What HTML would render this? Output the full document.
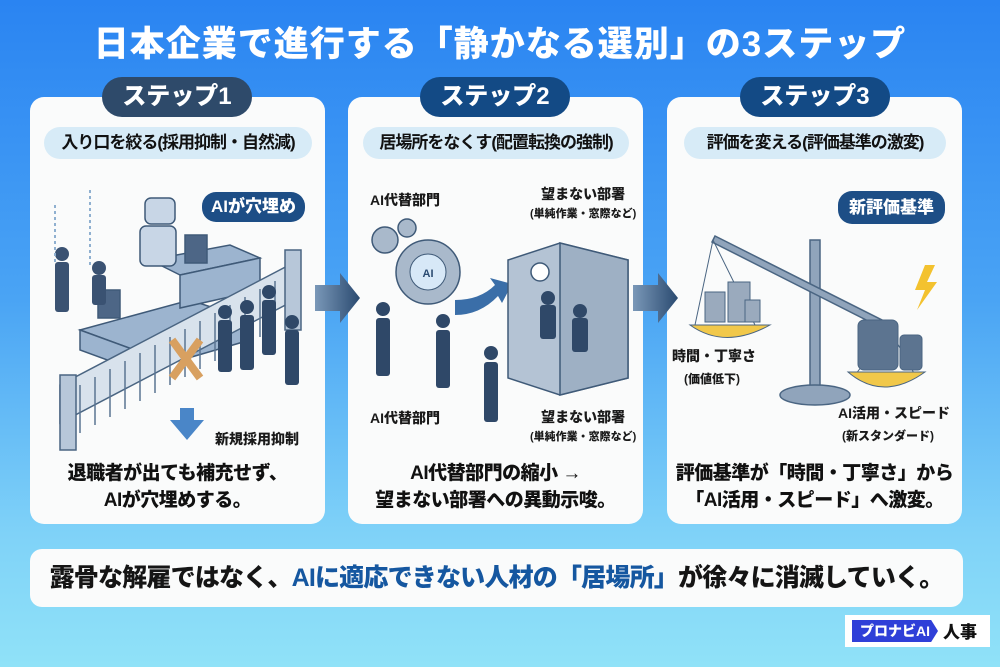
<!DOCTYPE html>
<html><head><meta charset="utf-8">
<style>
*{margin:0;padding:0;box-sizing:border-box}
body{width:1000px;height:667px;overflow:hidden;font-family:"Liberation Sans","Noto Sans CJK JP",sans-serif;background:linear-gradient(180deg,#2a84f2 0%,#4aa4f4 45%,#7fd2f8 80%,#90e2f8 100%);position:relative}
.abs{position:absolute}
h1{position:absolute;left:0;width:1000px;top:16px;text-align:center;color:#fff;font-size:35px;font-weight:900;letter-spacing:1px}
.card{position:absolute;top:97px;width:295px;height:427px;background:#fafbfb;border-radius:14px}
.pill{position:absolute;top:77px;width:150px;height:40px;border-radius:20px;color:#fff;font-size:24px;font-weight:900;text-align:center;line-height:40px}
.sub{position:absolute;top:127px;height:32px;border-radius:16px;background:#d7ebf7;font-size:17px;font-weight:700;color:#111;text-align:center;line-height:32px;letter-spacing:-1px;white-space:nowrap}
.desc{position:absolute;top:460px;width:295px;text-align:center;font-size:19px;font-weight:900;line-height:27px;color:#111;letter-spacing:-0.5px}
.lbl{position:absolute;font-weight:900;color:#1a1a1a;text-align:center;white-space:nowrap}
.bubble{position:absolute;background:#1d4e86;color:#fff;font-weight:900;font-size:17px;border-radius:14px;text-align:center}
</style></head><body>
<h1>日本企業で進行する「静かなる選別」の3ステップ</h1>

<div class="card" style="left:30px"></div>
<div class="card" style="left:348px"></div>
<div class="card" style="left:667px"></div>

<svg class="abs" style="left:0;top:0" width="1000" height="667">
<defs><linearGradient id="ag" x1="0" x2="1"><stop offset="0" stop-color="#7a98b8"/><stop offset="1" stop-color="#2a4a70"/></linearGradient></defs>
<polygon points="315,285 340,285 340,273 360,298 340,323 340,311 315,311" fill="url(#ag)"/>
<polygon points="633,285 658,285 658,273 678,298 658,323 658,311 633,311" fill="url(#ag)"/>
<g fill="#9cb4cf" stroke="#3f5a78" stroke-width="1.5">
<polygon points="80,330 190,300 250,320 140,352"/>
<polygon points="140,352 250,320 250,340 140,372"/>
<polygon points="80,330 140,352 140,372 80,350"/>
<polygon points="150,260 230,245 260,258 180,275"/>
<polygon points="180,275 260,258 260,290 180,308"/>
<rect x="98" y="290" width="22" height="28" fill="#4d6686"/>
<rect x="185" y="235" width="22" height="28" fill="#4d6686"/>
<rect x="145" y="198" width="30" height="26" rx="6" fill="#c8d6e6"/>
<rect x="140" y="226" width="36" height="40" rx="6" fill="#c8d6e6"/>
</g>
<g fill="#3a5272"><rect x="55" y="262" width="14" height="50" rx="3"/><circle cx="62" cy="254" r="7"/>
<rect x="92" y="275" width="14" height="30" rx="3"/><circle cx="99" cy="268" r="7"/></g>
<g fill="none" stroke="#8fb0d0" stroke-dasharray="3 3" stroke-width="2"><path d="M55,205 v60 M90,190 v75"/></g>
<g stroke="#4a6582" stroke-width="1.5" fill="#b7c7d9">
<polygon points="60,385 295,262 295,300 60,423" fill="#d8e2ec"/>
<rect x="285" y="250" width="16" height="80"/>
<rect x="60" y="375" width="16" height="75"/>
</g>
<g stroke="#5a7592" stroke-width="1.5">
<path d="M80,385 v48 M95,377 v48 M110,369 v48 M125,361 v48 M140,353 v48 M155,345 v48 M170,337 v48 M185,329 v48 M200,321 v48 M215,313 v48 M230,305 v48 M245,297 v48 M260,289 v48 M275,281 v48"/></g>
<path d="M172,340 L200,378 M200,340 L172,378" stroke="#d8a060" stroke-width="8"/>
<g fill="#2f4868"><rect x="218" y="320" width="14" height="52" rx="3"/><circle cx="225" cy="312" r="7"/>
<rect x="240" y="315" width="14" height="55" rx="3"/><circle cx="247" cy="307" r="7"/>
<rect x="262" y="300" width="14" height="55" rx="3"/><circle cx="269" cy="292" r="7"/>
<rect x="285" y="330" width="14" height="55" rx="3"/><circle cx="292" cy="322" r="7"/></g>
<polygon points="180,408 194,408 194,420 204,420 187,440 170,420 180,420" fill="#4a86c8"/>
<g fill="#a9b9cb" stroke="#3f5a78" stroke-width="1.5">
<circle cx="385" cy="240" r="13"/><circle cx="407" cy="228" r="9"/>
<circle cx="428" cy="272" r="32"/>
</g>
<circle cx="428" cy="272" r="18" fill="#d7e8f7" stroke="#3f5a78"/>
<text x="428" y="277" font-size="11" text-anchor="middle" fill="#2a4a70" font-weight="700">AI</text>
<path d="M455,300 Q480,300 495,285 L490,278 L512,284 L502,303 L498,296 Q480,315 455,315Z" fill="#3a6ea8"/>
<g stroke="#3f5a78" stroke-width="1.5"><polygon points="508,260 560,243 628,260 628,378 560,395 508,378" fill="#b4c3d4"/>
<polygon points="560,243 628,260 628,378 560,395" fill="#9eb0c4"/>
<circle cx="540" cy="272" r="9" fill="#fff"/></g>
<g fill="#2f4868"><rect x="540" y="305" width="16" height="34" rx="3"/><circle cx="548" cy="298" r="7"/>
<rect x="572" y="318" width="16" height="34" rx="3"/><circle cx="580" cy="311" r="7"/>
<rect x="376" y="318" width="14" height="58" rx="3"/><circle cx="383" cy="309" r="7"/>
<rect x="436" y="330" width="14" height="58" rx="3"/><circle cx="443" cy="321" r="7"/>
<rect x="484" y="362" width="14" height="60" rx="3"/><circle cx="491" cy="353" r="7"/></g>
<g stroke="#4a6582" stroke-width="1.5" fill="#90a4bb">
<rect x="810" y="240" width="10" height="150"/>
<ellipse cx="815" cy="395" rx="35" ry="10"/>
<polygon points="712,242 715,236 892,325 888,331"/>
</g>
<path d="M713,240 L695,325 M713,240 L755,325 M890,330 L855,375 M890,330 L915,375" stroke="#4a6582" fill="none"/>
<path d="M690,325 Q725,350 770,325Z" fill="#f1c84a" stroke="#4a6582"/>
<path d="M848,372 Q883,402 925,372Z" fill="#f1c84a" stroke="#4a6582"/>
<g fill="#9aaabd" stroke="#4a6582"><rect x="705" y="292" width="20" height="30"/><rect x="728" y="282" width="22" height="40"/><rect x="745" y="300" width="15" height="22"/>
<rect x="858" y="320" width="40" height="50" rx="6" fill="#5c7490"/><rect x="900" y="335" width="22" height="35" rx="4" fill="#5c7490"/></g>
<polygon points="925,265 915,290 925,290 917,310 937,282 927,282 935,265" fill="#f3c22f"/>
</svg>

<div class="pill" style="left:102px;background:#2e4a6a">ステップ1</div>
<div class="pill" style="left:420px;background:#134a85">ステップ2</div>
<div class="pill" style="left:740px;background:#134a85">ステップ3</div>

<div class="sub" style="left:44px;width:268px">入り口を絞る(採用抑制・自然減)</div>
<div class="sub" style="left:363px;width:266px">居場所をなくす(配置転換の強制)</div>
<div class="sub" style="left:684px;width:262px">評価を変える(評価基準の激変)</div>

<div class="bubble" style="left:202px;top:192px;width:103px;height:30px;line-height:30px">AIが穴埋め</div>
<div class="bubble" style="left:838px;top:191px;width:107px;height:33px;line-height:33px">新評価基準</div>

<div class="lbl" style="left:215px;top:429px;font-size:14px">新規採用抑制</div>
<div class="lbl" style="left:370px;top:190px;font-size:14px">AI代替部門</div>
<div class="lbl" style="left:370px;top:408px;font-size:14px">AI代替部門</div>
<div class="lbl" style="left:530px;top:185px;font-size:14px;line-height:18px">望まない部署<br><span style="font-size:11px">(単純作業・窓際など)</span></div>
<div class="lbl" style="left:530px;top:408px;font-size:14px;line-height:18px">望まない部署<br><span style="font-size:11px">(単純作業・窓際など)</span></div>
<div class="lbl" style="left:672px;top:345px;width:80px;font-size:14px;line-height:22px">時間・丁寧さ<br><span style="font-size:12px">(価値低下)</span></div>
<div class="lbl" style="left:838px;top:402px;width:100px;font-size:14px;line-height:22px">AI活用・スピード<br><span style="font-size:12px">(新スタンダード)</span></div>

<div class="desc" style="left:30px">退職者が出ても補充せず、<br>AIが穴埋めする。</div>
<div class="desc" style="left:348px">AI代替部門の縮小 →<br>望まない部署への異動示唆。</div>
<div class="desc" style="left:667px">評価基準が「時間・丁寧さ」から<br>「AI活用・スピード」へ激変。</div>

<div class="abs" style="left:30px;top:549px;width:933px;height:58px;background:#fafbfb;border-radius:12px;text-align:center;line-height:58px;font-size:25px;font-weight:900;color:#151515;letter-spacing:-0.8px;white-space:nowrap">露骨な解雇ではなく、<span style="color:#1557a0">AIに適応できない人材の「居場所」</span>が徐々に消滅していく。</div>

<div class="abs" style="left:845px;top:615px;width:145px;height:32px;background:#fff"></div>
<div class="abs" style="left:852px;top:620px;width:86px;height:22px;background:#2f3fd8;color:#fff;font-weight:900;font-size:14px;line-height:22px;text-align:center;clip-path:polygon(0 0,92% 0,100% 50%,92% 100%,0 100%)">プロナビAI</div>
<div class="abs" style="left:943px;top:618px;font-weight:900;font-size:17px;color:#111">人事</div>
</body></html>
